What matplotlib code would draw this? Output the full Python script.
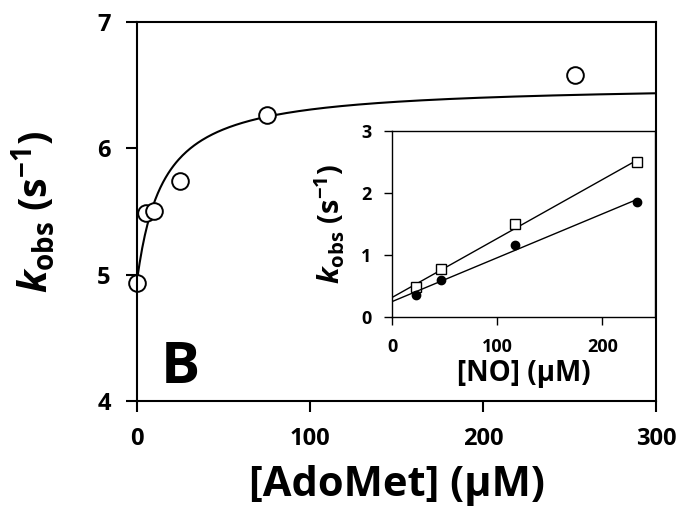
import numpy as np
import matplotlib
matplotlib.use('Agg')
import matplotlib.pyplot as plt

plt.rcParams['font.family'] = ['Open Sans', 'DejaVu Sans']
plt.rcParams['font.weight'] = 'bold'
plt.rcParams['mathtext.fontset'] = 'custom'
plt.rcParams['mathtext.rm'] = 'Open Sans:bold'
plt.rcParams['mathtext.it'] = 'Open Sans:bold:italic'
plt.rcParams['mathtext.bf'] = 'Open Sans:bold'

# main panel: kobs vs [AdoMet]
adomet = [0, 5, 10, 25, 75, 253]
kobs = [4.93, 5.49, 5.50, 5.74, 6.26, 6.58]

# hyperbolic fit parameters
fit_k0 = 4.95
fit_amp = 1.56
fit_kd = 15.0

# inset: kobs vs [NO]
no_conc = [23, 47, 117, 233]
kobs_open = [0.48, 0.78, 1.50, 2.50]
kobs_filled = [0.35, 0.60, 1.16, 1.86]

fig = plt.figure(figsize=(6.8, 5.11), dpi=100)
ax = fig.add_axes([0.2015, 0.2153, 0.7632, 0.7417])

xs = np.linspace(0, 300, 400)
ax.plot(xs, fit_k0 + fit_amp * xs / (fit_kd + xs), color='black', lw=1.5)
ax.plot(adomet, kobs, 'o', ms=12, mfc='white', mec='black', mew=1.4, clip_on=False)

ax.set_xlim(0, 300)
ax.set_ylim(4, 7)
ax.set_xticks([0, 100, 200, 300])
ax.set_yticks([4, 5, 6, 7])
ax.tick_params(direction='out', length=8, width=1.5, labelsize=17, pad=11)
for s in ax.spines.values():
    s.set_linewidth(1.5)
ax.set_xlabel('[AdoMet] (µM)', fontsize=30, fontweight='bold', labelpad=10)
ax.set_ylabel(r'$\mathit{k}_{\mathrm{obs}}$ (s$^{\mathrm{-1}}$)', fontsize=28.5,
              fontweight='bold', labelpad=28)
ax.text(0.046, 0.047, 'B', transform=ax.transAxes, fontsize=42, fontweight='bold')

ins = fig.add_axes([0.5765, 0.3796, 0.3867, 0.3636])
for yv, mk, fc, size in [(kobs_open, 's', 'white', 6.5), (kobs_filled, 'o', 'black', 6)]:
    slope, icpt = np.polyfit(no_conc, yv, 1)
    xl = np.array([0, 233])
    ins.plot(xl, icpt + slope * xl, color='black', lw=1.0)
    ins.plot(no_conc, yv, mk, ms=size, mfc=fc, mec='black', mew=1.0)
ins.set_xlim(0, 250)
ins.set_ylim(0, 3)
ins.set_xticks([0, 100, 200])
ins.set_yticks([0, 1, 2, 3])
ins.tick_params(direction='out', length=6, width=1.0, labelsize=13, pad=9)
for s in ins.spines.values():
    s.set_linewidth(1.0)
ins.set_xlabel('[NO] (µM)', fontsize=20, fontweight='bold', labelpad=2)
ins.set_ylabel(r'$\mathit{k}_{\mathrm{obs}}$ (s$^{\mathrm{-1}}$)', fontsize=21,
               fontweight='bold', labelpad=10)

fig.savefig('out.png', dpi=100)
